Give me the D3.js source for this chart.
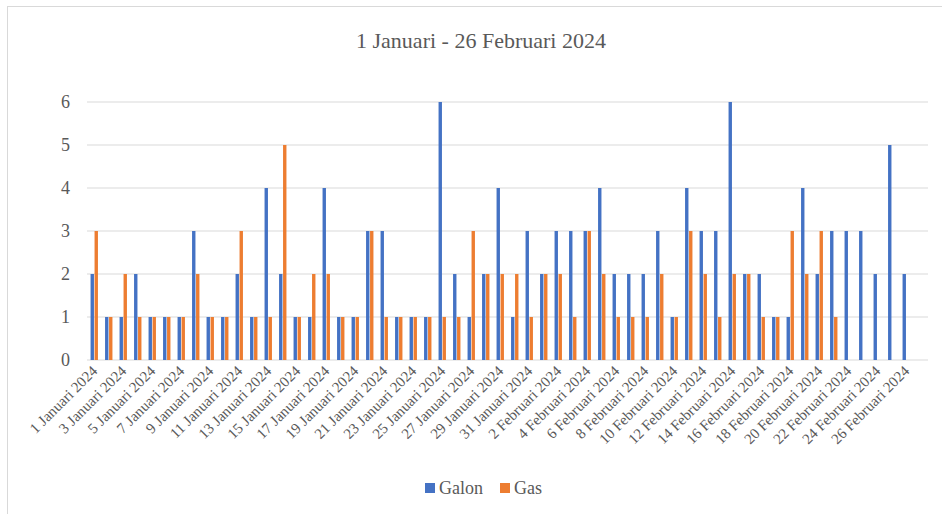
<!DOCTYPE html>
<html>
<head>
<meta charset="utf-8">
<script src="https://cdn.jsdelivr.net/npm/d3@7"></script>
<style>
  body { margin: 0; background: #fff; }
</style>
</head>
<body>
<script>
const width = 942, height = 514;
const font = "'Liberation Serif', 'DejaVu Serif', 'Times New Roman', serif";

// categories (last one is an empty slot, as in the original chart)
const categories = [
  "1 Januari 2024","2 Januari 2024","3 Januari 2024","4 Januari 2024","5 Januari 2024",
  "6 Januari 2024","7 Januari 2024","8 Januari 2024","9 Januari 2024","10 Januari 2024",
  "11 Januari 2024","12 Januari 2024","13 Januari 2024","14 Januari 2024","15 Januari 2024",
  "16 Januari 2024","17 Januari 2024","18 Januari 2024","19 Januari 2024","20 Januari 2024",
  "21 Januari 2024","22 Januari 2024","23 Januari 2024","24 Januari 2024","25 Januari 2024",
  "26 Januari 2024","27 Januari 2024","28 Januari 2024","29 Januari 2024","30 Januari 2024",
  "31 Januari 2024","1 Februari 2024","2 Februari 2024","3 Februari 2024","4 Februari 2024",
  "5 Februari 2024","6 Februari 2024","7 Februari 2024","8 Februari 2024","9 Februari 2024",
  "10 Februari 2024","11 Februari 2024","12 Februari 2024","13 Februari 2024","14 Februari 2024",
  "15 Februari 2024","16 Februari 2024","17 Februari 2024","18 Februari 2024","19 Februari 2024",
  "20 Februari 2024","21 Februari 2024","22 Februari 2024","23 Februari 2024","24 Februari 2024",
  "25 Februari 2024","26 Februari 2024","27 Februari 2024"
];

const galon = [2,1,1,2,1,1,1,3,1,1,2,1,4,2,
               1,1,4,1,1,3,3,1,1,1,6,2,1,2,4,
               1,3,2,3,3,3,4,2,2,2,3,1,4,3,3,
               6,2,2,1,1,4,2,3,3,3,2,5,2,null];

const gas = [3,1,2,1,1,1,1,2,1,1,3,1,1,5,
             1,2,2,1,1,3,1,1,1,1,1,1,3,2,2,
             2,1,2,2,1,3,2,1,1,1,2,1,3,2,1,
             2,2,1,1,3,2,3,1,null,null,null,null,null,null];

const seriesNames = ["Galon", "Gas"];
const colors = ["#4472C4", "#ED7D31"];
const yTicks = [0,1,2,3,4,5,6];
const title = "1 Januari - 26 Februari 2024";

const margin = {left: 87, right: 14, top: 102, bottom: 154};

const svg = d3.select("body").append("svg")
  .attr("width", width)
  .attr("height", height)
  .style("font-family", font);

// outer chart border
svg.append("rect")
  .attr("x", 7.5).attr("y", 6.5)
  .attr("width", 1000).attr("height", 600)
  .attr("fill", "#fff")
  .attr("stroke", "#D9D9D9");

const x0 = d3.scaleBand()
  .domain(categories)
  .range([margin.left, width - margin.right])
  .padding(0);

const x1 = d3.scaleBand()
  .domain(seriesNames)
  .range([0, x0.bandwidth()])
  .paddingInner(0.15)
  .paddingOuter(0.89);

const y = d3.scaleLinear()
  .domain([0, 6])
  .range([height - margin.bottom, margin.top]);

// gridlines
svg.append("g")
  .selectAll("line")
  .data(yTicks)
  .join("line")
    .attr("x1", margin.left)
    .attr("x2", width - margin.right)
    .attr("y1", d => y(d))
    .attr("y2", d => y(d))
    .attr("stroke", "#D9D9D9")
    .attr("stroke-width", 1.2);

// y labels
svg.append("g")
  .selectAll("text")
  .data(yTicks)
  .join("text")
    .attr("x", 70)
    .attr("y", d => y(d))
    .attr("dy", "0.35em")
    .attr("text-anchor", "end")
    .attr("font-family", font)
    .attr("fill", "#595959")
    .style("font-size", "18px")
    .text(d => d);

// bars
const rows = categories.map((c, i) => ({cat: c, vals: [galon[i], gas[i]]}));

svg.append("g")
  .selectAll("g")
  .data(rows)
  .join("g")
    .attr("transform", d => `translate(${x0(d.cat)},0)`)
  .selectAll("rect")
  .data(d => d.vals.map((v, k) => ({k, v})).filter(e => e.v != null && e.v > 0))
  .join("rect")
    .attr("x", d => x1(seriesNames[d.k]))
    .attr("width", x1.bandwidth())
    .attr("y", d => y(d.v))
    .attr("height", d => y(0) - y(d.v))
    .attr("fill", d => colors[d.k]);

// x labels (every other category)
svg.append("g")
  .selectAll("text")
  .data(categories.filter((c, i) => i % 2 === 0))
  .join("text")
    .attr("transform", d => `translate(${x0(d) + x0.bandwidth() / 2 + 4},${y(0) + 12}) rotate(-45)`)
    .attr("text-anchor", "end")
    .attr("font-family", font)
    .attr("fill", "#595959")
    .style("font-size", "15px")
    .text(d => d);

// title
svg.append("text")
  .attr("x", 481)
  .attr("y", 48)
  .attr("text-anchor", "middle")
  .attr("font-family", font)
  .attr("fill", "#595959")
  .style("font-size", "22px")
  .text(title);

// legend
const legend = svg.append("g").attr("transform", "translate(425,488)");
const items = [{name: "Galon", dx: 0}, {name: "Gas", dx: 75}];
items.forEach((it, k) => {
  legend.append("rect")
    .attr("x", it.dx).attr("y", -5)
    .attr("width", 10).attr("height", 10)
    .attr("fill", colors[k]);
  legend.append("text")
    .attr("x", it.dx + 14)
    .attr("y", 0)
    .attr("dy", "0.35em")
    .attr("font-family", font)
    .attr("fill", "#595959")
    .style("font-size", "18px")
    .text(it.name);
});
</script>
</body>
</html>
